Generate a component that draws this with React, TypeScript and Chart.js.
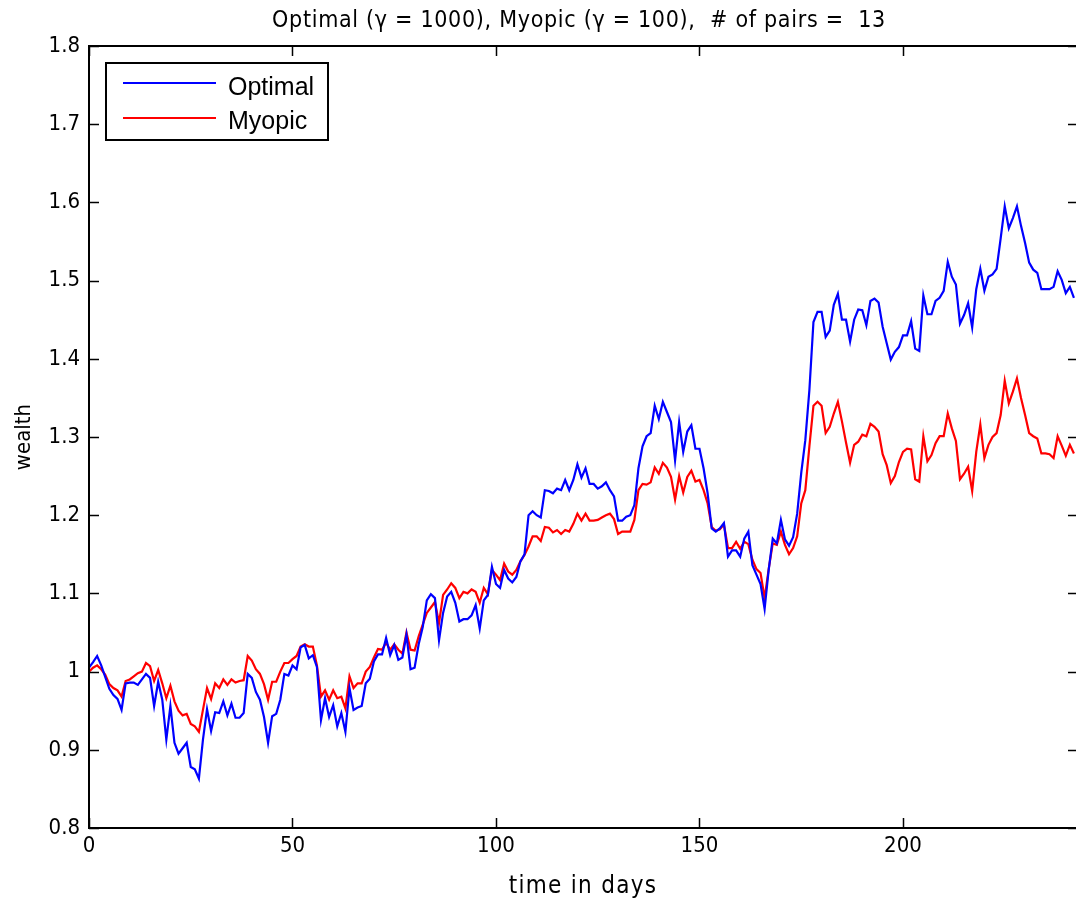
import React, { useEffect, useRef } from "react";
import { Chart, registerables } from "chart.js";

Chart.register(...registerables);

// Wealth paths, one value per trading day (day 0 .. 242)
const optimal = [
  1.005, 1.012, 1.02, 1.008, 0.993, 0.978, 0.97, 0.965, 0.951, 0.985,
  0.986, 0.986, 0.983, 0.99, 0.997, 0.992, 0.956, 0.987, 0.964, 0.913,
  0.956, 0.909, 0.895, 0.902, 0.909, 0.878, 0.875, 0.863, 0.913, 0.952,
  0.924, 0.948, 0.947, 0.962, 0.944, 0.959, 0.941, 0.941, 0.947, 0.997,
  0.992, 0.974, 0.964, 0.942, 0.909, 0.943, 0.946, 0.964, 0.997, 0.995,
  1.008, 1.003, 1.031, 1.034, 1.017, 1.021, 1.006, 0.938, 0.966, 0.942,
  0.957, 0.93, 0.947, 0.923, 0.979, 0.951, 0.954, 0.956, 0.985, 0.991,
  1.013, 1.022, 1.022, 1.043, 1.021, 1.034, 1.015, 1.018, 1.047, 1.003,
  1.005, 1.035, 1.057, 1.091, 1.099, 1.094, 1.04, 1.075, 1.096, 1.102,
  1.088, 1.064, 1.067, 1.067, 1.072, 1.085, 1.055, 1.091, 1.098, 1.134,
  1.112, 1.107, 1.13, 1.119, 1.114, 1.121, 1.141, 1.15, 1.2, 1.205,
  1.2, 1.197, 1.232, 1.231, 1.228, 1.234, 1.232, 1.245, 1.232, 1.245,
  1.265, 1.248, 1.26, 1.24, 1.24, 1.234, 1.237, 1.242, 1.232, 1.224,
  1.193, 1.193, 1.198, 1.2, 1.213, 1.26, 1.288, 1.301, 1.305, 1.34,
  1.323, 1.345, 1.332, 1.319, 1.27, 1.319, 1.281, 1.307, 1.315, 1.285,
  1.285, 1.26, 1.228, 1.183, 1.179, 1.183, 1.19, 1.147, 1.155, 1.155,
  1.147, 1.17, 1.179, 1.136, 1.124, 1.112, 1.08, 1.13, 1.17, 1.164,
  1.194, 1.169, 1.161, 1.172, 1.202, 1.254, 1.296, 1.36, 1.447, 1.46,
  1.46, 1.428, 1.436, 1.469, 1.483, 1.45, 1.45, 1.422, 1.45, 1.463,
  1.462, 1.443, 1.474, 1.477, 1.472, 1.441, 1.42, 1.399, 1.409, 1.415,
  1.43, 1.43, 1.448, 1.413, 1.41, 1.481, 1.457, 1.457, 1.474, 1.478,
  1.487, 1.524, 1.505, 1.495, 1.445, 1.456, 1.471, 1.44, 1.489, 1.515,
  1.487, 1.505, 1.508, 1.515, 1.554, 1.595, 1.567, 1.58, 1.595, 1.57,
  1.548, 1.523, 1.514, 1.51, 1.489, 1.489, 1.489, 1.492, 1.512, 1.501,
  1.484, 1.492, 1.478,
];

const myopic = [
  1.0, 1.005, 1.008, 1.003, 0.996, 0.984, 0.979, 0.976, 0.968, 0.988,
  0.99, 0.994, 0.998, 1.0, 1.011, 1.007, 0.988, 1.002, 0.985, 0.966,
  0.982, 0.962, 0.95, 0.944, 0.946, 0.933, 0.93, 0.923, 0.951, 0.979,
  0.965, 0.985, 0.979, 0.99, 0.983, 0.99, 0.986, 0.988, 0.989, 1.02,
  1.014, 1.003, 0.997, 0.984, 0.964, 0.987, 0.987, 1.0, 1.011, 1.011,
  1.016, 1.02, 1.032, 1.035, 1.032, 1.032, 1.008, 0.968, 0.976, 0.964,
  0.976, 0.966, 0.968, 0.953, 0.994, 0.979, 0.985, 0.985, 1.0, 1.006,
  1.018, 1.029, 1.028, 1.037, 1.028, 1.035, 1.028, 1.023, 1.05, 1.028,
  1.027, 1.045, 1.06, 1.075, 1.082, 1.089, 1.062, 1.098, 1.105, 1.113,
  1.107, 1.094, 1.102, 1.1, 1.105, 1.102, 1.088, 1.107, 1.099, 1.13,
  1.124, 1.117, 1.138, 1.128, 1.124, 1.13, 1.141, 1.149, 1.16, 1.173,
  1.173, 1.167, 1.185, 1.184, 1.178, 1.181, 1.176, 1.181, 1.179, 1.189,
  1.202, 1.193, 1.202, 1.193, 1.193, 1.194, 1.197, 1.2, 1.202, 1.195,
  1.176, 1.179, 1.179, 1.179, 1.194, 1.232, 1.24, 1.239, 1.242, 1.261,
  1.253, 1.267, 1.261, 1.249, 1.22, 1.25, 1.229, 1.249, 1.257, 1.243,
  1.245, 1.232, 1.215, 1.185, 1.18, 1.182, 1.188, 1.158, 1.158, 1.166,
  1.157, 1.166, 1.163, 1.143, 1.131, 1.126, 1.094, 1.131, 1.164, 1.162,
  1.179, 1.162, 1.15, 1.158, 1.173, 1.215, 1.232, 1.288, 1.34, 1.345,
  1.34, 1.305, 1.313, 1.33, 1.345, 1.32, 1.293, 1.267, 1.29, 1.294,
  1.303, 1.301, 1.317, 1.313, 1.307, 1.278, 1.264, 1.241, 1.25, 1.268,
  1.281, 1.285, 1.284, 1.246, 1.243, 1.301, 1.269, 1.277, 1.292, 1.301,
  1.301, 1.33, 1.311, 1.295, 1.246, 1.253, 1.262, 1.231, 1.281, 1.316,
  1.273, 1.29, 1.3, 1.305, 1.328, 1.372, 1.343, 1.358, 1.375, 1.35,
  1.328, 1.305, 1.301, 1.298, 1.279, 1.279, 1.278, 1.273, 1.301, 1.289,
  1.276, 1.29, 1.279,
];

const seriesNames = ["Optimal", "Myopic"];
const seriesColors = ["#0000ff", "#ff0000"];
const xTicks = [0, 50, 100, 150, 200];
const xTickLabels = ["0", "50", "100", "150", "200"];
const yTicks = [0.8, 0.9, 1.0, 1.1, 1.2, 1.3, 1.4, 1.5, 1.6, 1.7, 1.8];
const yTickLabels = ["0.8", "0.9", "1", "1.1", "1.2", "1.3", "1.4", "1.5", "1.6", "1.7", "1.8"];
const xMin = 0;
const xMax = 243;
const yMin = 0.8;
const yMax = 1.8;
const titleText = "Optimal (\u03b3 = 1000), Myopic (\u03b3 = 100),  # of pairs =  13";
const xTitle = "time in days";
const yTitle = "wealth";

const NARROW = '"DejaVu Sans Condensed", "Liberation Sans Narrow", sans-serif';
const SANS = '"Liberation Sans", Arial, sans-serif';

const decorPlugin = {
  id: "matlabDecor",
  afterDatasetsDraw(chart: any) {
    const { ctx, chartArea: a, scales } = chart;
    const xs = scales.x;
    const ys = scales.y;
    ctx.save();
    // axes box
    ctx.strokeStyle = "#000";
    ctx.lineWidth = 2;
    ctx.strokeRect(a.left, a.top, a.right - a.left, a.bottom - a.top);
    // inward ticks
    const tl = 10;
    ctx.lineWidth = 1.5;
    ctx.beginPath();
    xTicks.forEach((v) => {
      const px = Math.round(xs.getPixelForValue(v)) + 0.5;
      ctx.moveTo(px, a.bottom);
      ctx.lineTo(px, a.bottom - tl);
      ctx.moveTo(px, a.top);
      ctx.lineTo(px, a.top + tl);
    });
    yTicks.forEach((v) => {
      const py = Math.round(ys.getPixelForValue(v)) + 0.5;
      ctx.moveTo(a.left, py);
      ctx.lineTo(a.left + tl, py);
      ctx.moveTo(a.right, py);
      ctx.lineTo(a.right - tl, py);
    });
    ctx.stroke();

    // legend box
    const lx = 106, ly = 63, lw = 222, lh = 77;
    ctx.fillStyle = "#fff";
    ctx.fillRect(lx, ly, lw, lh);
    ctx.lineWidth = 2;
    ctx.strokeStyle = "#000";
    ctx.strokeRect(lx, ly, lw, lh);
    const rows = [83, 118];
    const baselines = [95, 129];
    chart.data.datasets.forEach((ds: any, i: number) => {
      ctx.strokeStyle = ds.borderColor;
      ctx.lineWidth = 2;
      ctx.beginPath();
      ctx.moveTo(123, rows[i]);
      ctx.lineTo(216, rows[i]);
      ctx.stroke();
      ctx.fillStyle = "#000";
      ctx.font = `25px ${SANS}`;
      ctx.textAlign = "left";
      ctx.textBaseline = "alphabetic";
      ctx.fillText(ds.label, 228, baselines[i]);
    });

    // titles
    ctx.fillStyle = "#000";
    ctx.textBaseline = "alphabetic";
    ctx.textAlign = "center";
    (ctx as any).letterSpacing = "0.7px";
    ctx.font = `23px ${NARROW}`;
    ctx.fillText(titleText, 579, 27);

    (ctx as any).letterSpacing = "1.3px";
    ctx.font = `24px ${NARROW}`;
    ctx.fillText(xTitle, 583, 893);

    (ctx as any).letterSpacing = "0px";
    ctx.font = `22px ${NARROW}`;
    ctx.translate(30, 437);
    ctx.rotate(-Math.PI / 2);
    ctx.fillText(yTitle, 0, 0);
    ctx.restore();
  },
};

export default function App() {
  const ref = useRef<HTMLCanvasElement | null>(null);

  useEffect(() => {
    if (!ref.current) return;
    const chart = new Chart(ref.current, {
      type: "line",
      data: {
        datasets: [
          {
            label: seriesNames[0],
            data: optimal.map((v, i) => ({ x: i, y: v })),
            borderColor: seriesColors[0],
            backgroundColor: seriesColors[0],
            borderWidth: 2.2,
            pointRadius: 0,
            tension: 0,
          },
          {
            label: seriesNames[1],
            data: myopic.map((v, i) => ({ x: i, y: v })),
            borderColor: seriesColors[1],
            backgroundColor: seriesColors[1],
            borderWidth: 2.2,
            pointRadius: 0,
            tension: 0,
          },
        ],
      },
      options: {
        animation: false,
        responsive: false,
        maintainAspectRatio: false,
        devicePixelRatio: 1,
        layout: { padding: { top: 46, right: 2, left: 0, bottom: 0 } },
        plugins: {
          legend: { display: false },
          title: { display: false },
          tooltip: { enabled: false },
        },
        scales: {
          x: {
            type: "linear",
            min: xMin,
            max: xMax,
            grid: { display: false, drawTicks: false },
            border: { display: false },
            afterBuildTicks: (scale: any) => {
              scale.ticks = xTicks.map((v) => ({ value: v }));
            },
            afterFit: (scale: any) => {
              scale.height = 74;
            },
            ticks: {
              autoSkip: false,
              maxRotation: 0,
              padding: 5,
              color: "#000",
              font: { family: NARROW, size: 22 },
              callback: (v: any) => {
                const idx = xTicks.indexOf(Number(v));
                return idx >= 0 ? xTickLabels[idx] : "";
              },
            },
          },
          y: {
            type: "linear",
            min: yMin,
            max: yMax,
            grid: { display: false, drawTicks: false },
            border: { display: false },
            afterBuildTicks: (scale: any) => {
              scale.ticks = yTicks.map((v) => ({ value: v }));
            },
            afterFit: (scale: any) => {
              scale.width = 89;
            },
            ticks: {
              autoSkip: false,
              padding: 9,
              color: "#000",
              font: { family: NARROW, size: 22 },
              callback: (v: any) => {
                const idx = yTicks.findIndex((t) => Math.abs(t - Number(v)) < 1e-6);
                return idx >= 0 ? yTickLabels[idx] : "";
              },
            },
          },
        },
      },
      plugins: [decorPlugin],
    });
    return () => chart.destroy();
  }, []);

  return (
    <div
      style={{
        position: "fixed",
        left: 0,
        top: 0,
        width: 1076,
        height: 902,
        overflow: "hidden",
        background: "#fff",
      }}
    >
      <canvas ref={ref} width={1080} height={902} style={{ display: "block" }} />
    </div>
  );
}
